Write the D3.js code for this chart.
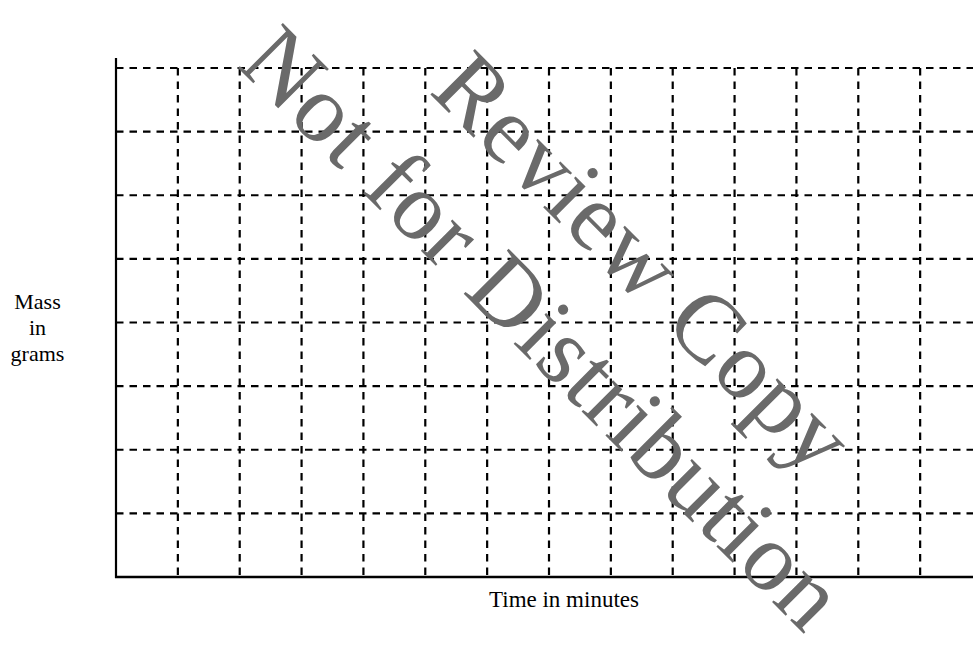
<!DOCTYPE html>
<html>
<head>
<meta charset="utf-8">
<script src="https://cdn.jsdelivr.net/npm/d3@7"></script>
<style>
  html, body { margin: 0; padding: 0; background: #fff; }
  svg { display: block; }
</style>
</head>
<body>
<svg id="chart" width="973" height="656"></svg>
<script>
// Blank worksheet grid: time (minutes) across, mass (grams) up.
const timeTicks = [0, 1, 2, 3, 4, 5, 6, 7, 8, 9, 10, 11, 12, 13, 14];
const massTicks = [0, 1, 2, 3, 4, 5, 6, 7, 8];
const yLabelLines = ["Mass", "in", "grams"];
const xLabel = "Time in minutes";
const stampLines = ["Not for Distribution", "Review Copy"];

const svg = d3.select("#chart");

const x = d3.scaleLinear().domain([0, 14]).range([116, 982]);
const y = d3.scaleLinear().domain([0, 8]).range([577, 68]);

const grid = svg.append("g");

// dashed horizontal rules
grid.selectAll("line.h")
  .data(massTicks.slice(1))
  .join("line")
  .attr("class", "h")
  .attr("x1", x(0)).attr("x2", 980)
  .attr("y1", d => y(d)).attr("y2", d => y(d))
  .attr("stroke", "#000")
  .attr("stroke-width", 2.2)
  .attr("stroke-dasharray", "7.5,6");

// dashed vertical rules
grid.selectAll("line.v")
  .data(timeTicks.slice(1))
  .join("line")
  .attr("class", "v")
  .attr("x1", d => x(d)).attr("x2", d => x(d))
  .attr("y1", y(8)).attr("y2", y(0))
  .attr("stroke", "#000")
  .attr("stroke-width", 2.2)
  .attr("stroke-dasharray", "7.5,6");

// solid axes
grid.append("line")
  .attr("x1", x(0)).attr("x2", x(0))
  .attr("y1", y(8) - 10).attr("y2", y(0) + 1)
  .attr("stroke", "#000").attr("stroke-width", 2.2);

grid.append("line")
  .attr("x1", x(0) - 1).attr("x2", 980)
  .attr("y1", y(0)).attr("y2", y(0))
  .attr("stroke", "#000").attr("stroke-width", 2.4);

// axis titles
const font = "'Liberation Serif', 'Times New Roman', serif";

svg.append("text")
  .attr("x", 37.5)
  .attr("font-family", font)
  .attr("font-size", 22)
  .attr("text-anchor", "middle")
  .attr("fill", "#000")
  .selectAll("tspan")
  .data(yLabelLines)
  .join("tspan")
  .attr("x", 37.5)
  .attr("y", (d, i) => 309 + i * 26)
  .text(d => d);

svg.append("text")
  .attr("x", 489)
  .attr("y", 607)
  .attr("font-family", font)
  .attr("font-size", 23)
  .attr("fill", "#000")
  .text(xLabel);

// diagonal stamp
const stampPos = [[236, 66], [428, 92]];
svg.append("g")
  .selectAll("text")
  .data(stampLines)
  .join("text")
  .attr("transform", (d, i) => `translate(${stampPos[i][0]},${stampPos[i][1]}) rotate(45)`)
  .attr("font-family", font)
  .attr("font-size", 97)
  .attr("letter-spacing", 1.5)
  .attr("fill", "#6a6a6a")
  .text(d => d);
</script>
</body>
</html>
